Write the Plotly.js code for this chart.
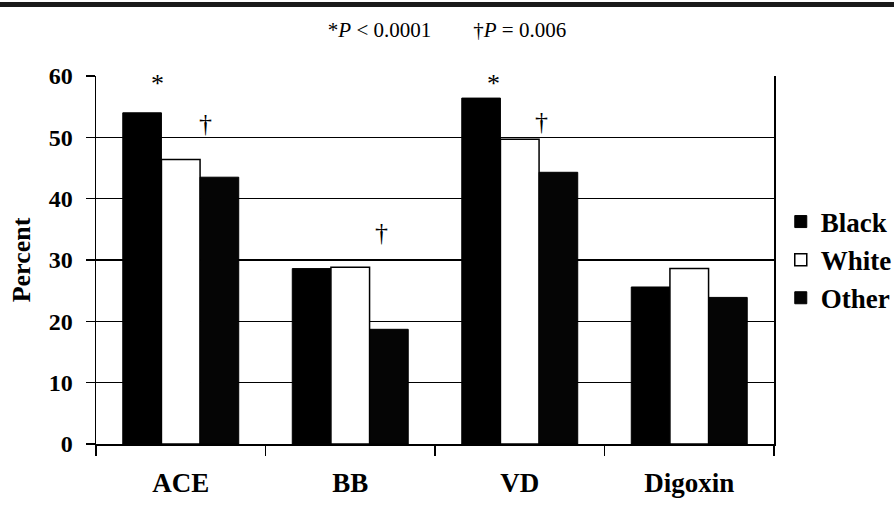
<!DOCTYPE html>
<html>
<head>
<meta charset="utf-8">
<script src="https://cdn.plot.ly/plotly-3.0.1.min.js"></script>
<style>html,body{margin:0;padding:0;background:#fff;}#chart{width:894px;height:522px;}</style>
</head>
<body>
<div id="chart"></div>
<script>
// Data
var categories = ["ACE", "BB", "VD", "Digoxin"];
var blackVals = [54.0, 28.6, 56.4, 25.6];
var whiteVals = [46.4, 28.8, 49.7, 28.6];
var otherVals = [43.5, 18.7, 44.3, 23.9];
var seriesNames = ["Black", "White", "Other"];
var yTicks = [0, 10, 20, 30, 40, 50, 60];

// Significance marks (category index + offset, value)
var markText = ["*", "\u2020", "\u2020", "*", "\u2020"];
var markX = [-0.14, 0.145, 1.183, 1.844, 2.127];
var markY = [58.7, 52.3, 34.5, 58.8, 52.6];

var serif = "Liberation Serif, Times New Roman, serif";

var traces = [
  {type: "bar", name: seriesNames[0], x: categories, y: blackVals, legendgroup: "a",
   marker: {color: "#000000", line: {color: "#000", width: 1}}},
  {type: "bar", name: seriesNames[1], x: categories, y: whiteVals, legendgroup: "b",
   marker: {color: "#ffffff", line: {color: "#000", width: 1.5}}},
  {type: "bar", name: seriesNames[2], x: categories, y: otherVals, legendgroup: "c",
   marker: {color: "#050505", line: {color: "#000", width: 1}}}
];

var annotations = markText.map(function (t, i) {
  return {x: markX[i], y: markY[i], xref: "x", yref: "y", text: t, showarrow: false,
    font: {family: serif, size: 26, color: "#000"}, xanchor: "center", yanchor: "middle"};
});

var layout = {
  width: 894, height: 522,
  margin: {l: 96, r: 120, t: 76, b: 78, autoexpand: false},
  paper_bgcolor: "#fff", plot_bgcolor: "#fff",
  barmode: "group", bargap: 0.316, bargroupgap: 0,
  title: {text: "*<i>P</i> < 0.0001        \u2020<i>P</i> = 0.006", x: 0.5, xanchor: "center",
    y: 1 - 30 / 522, yanchor: "middle", yref: "container",
    font: {family: serif, size: 21, color: "#000"}},
  xaxis: {type: "category", tickson: "boundaries", ticks: "outside", ticklen: 10, tickwidth: 1.5,
    tickcolor: "#000", showline: true, linecolor: "#000", linewidth: 1.5, showgrid: false,
    ticklabelstandoff: 14,
    tickfont: {family: serif, size: 27, color: "#000", weight: "bold"}},
  yaxis: {range: [0, 60], tickvals: yTicks, ticks: "outside", ticklen: 9, tickwidth: 1.5,
    tickcolor: "#000", showline: true, linecolor: "#000", linewidth: 1.5, mirror: true,
    showgrid: true, gridcolor: "#000", gridwidth: 1.5, zeroline: false,
    ticklabelstandoff: 8,
    tickfont: {family: serif, size: 24, color: "#000", weight: "bold"},
    title: {text: "Percent", standoff: 10, font: {family: serif, size: 26, color: "#000", weight: "bold"}}},
  showlegend: true,
  legend: {x: 1.01, xanchor: "left", y: 0.5, yanchor: "middle", tracegroupgap: 0,
    font: {family: serif, size: 27, color: "#000", weight: "bold"}, itemwidth: 30,
    bgcolor: "rgba(0,0,0,0)"},
  annotations: annotations,
  shapes: [{type: "rect", xref: "paper", yref: "paper",
    x0: -96 / 678, x1: (894 - 96) / 678, y0: 1 + (76 - 7) / 368, y1: 1 + (76 - 2) / 368,
    fillcolor: "#1a1a1a", line: {width: 0}}]
};

Plotly.newPlot("chart", traces, layout, {displayModeBar: false, staticPlot: true});
</script>
</body>
</html>
